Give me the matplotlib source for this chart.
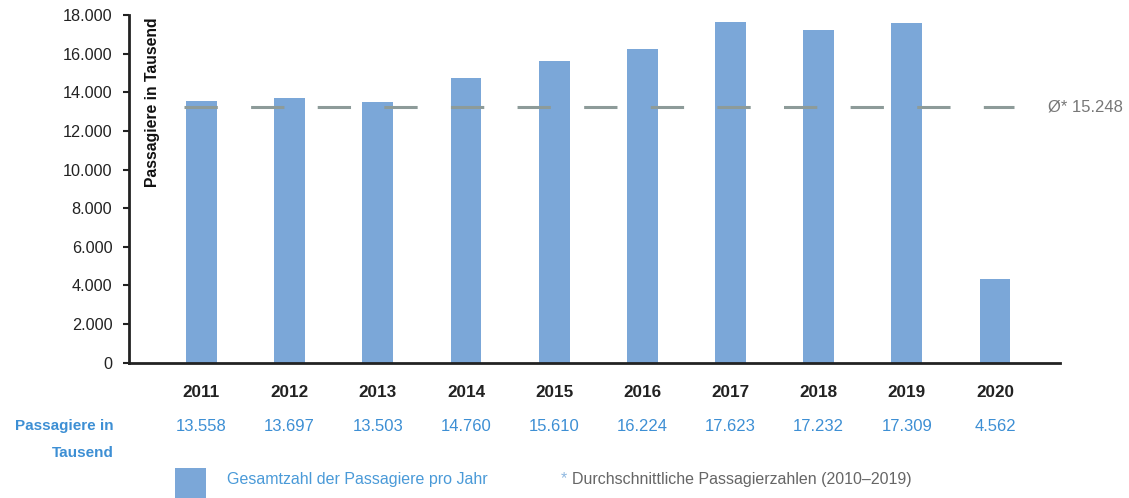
import numpy as np
import matplotlib
matplotlib.use('Agg')
import matplotlib.pyplot as plt
from matplotlib.patches import Rectangle
from matplotlib.transforms import blended_transform_factory

plt.rcParams['font.family'] = ['Liberation Sans', 'DejaVu Sans']

'''DATA (read off the picture)'''
jahre = ['2011', '2012', '2013', '2014', '2015', '2016', '2017', '2018', '2019', '2020']
# bar heights as drawn in the chart (thousand passengers)
balken = [13558, 13697, 13503, 14760, 15610, 16224, 17623, 17232, 17600, 4330]
# values printed in the table row below the axis
tabelle = ['13.558', '13.697', '13.503', '14.760', '15.610', '16.224', '17.623', '17.232', '17.309', '4.562']
# average line as drawn, and its label
mittel_linie = 13220
mittel_text = 'Ø* 15.248'
y_ticks = [0, 2000, 4000, 6000, 8000, 10000, 12000, 14000, 16000, 18000]
y_labels = ['0', '2.000', '4.000', '6.000', '8.000', '10.000', '12.000', '14.000', '16.000', '18.000']

BAR = '#7ba7d8'
DARK = '#222222'
BLUE = '#3d8fd4'
LINE = '#8d9b99'


'''PLOT GENERATION'''
W, H = 1129, 498
fig = plt.figure(figsize=(W / 100, H / 100), dpi=100)
ax = fig.add_axes([129 / W, 1 - 362.7 / H, 931 / W, 347.7 / H])

x = np.arange(len(jahre))
ax.bar(x, balken, width=0.35, color=BAR, zorder=2)

avg, = ax.plot([-0.198, 9.22], [mittel_linie, mittel_linie], color=LINE, linewidth=2.2, zorder=3)
avg.set_dashes((10.9, 10.9))
avg.set_dash_capstyle('butt')


'''PLOT SETTINGS'''
ax.set_xlim(-0.822, 9.737)
ax.set_ylim(0, 18000)
ax.set_yticks(y_ticks)
ax.set_yticklabels(y_labels, fontsize=11.7, color=DARK)
ax.set_xticks([])
ax.tick_params(axis='y', length=4, width=1.5, color=DARK, pad=8)

for side in ['top', 'right']:
    ax.spines[side].set_visible(False)
for side in ['left', 'bottom']:
    ax.spines[side].set_linewidth(2)
    ax.spines[side].set_color(DARK)

ax.text(0.0252, 0.994, 'Passagiere in Tausend', transform=ax.transAxes, rotation=90,
        ha='center', va='top', fontsize=11.3, fontweight='bold', color='#111111')

fig.text(1048 / W, 1 - 107.5 / H, mittel_text, ha='left', va='center', fontsize=12, color='#777777')


'''TABLE BELOW THE AXIS'''
spalte = blended_transform_factory(ax.transData, fig.transFigure)
for i in range(len(jahre)):
    ax.text(x[i], 1 - 392.7 / H, jahre[i], transform=spalte,
            ha='center', va='center', fontsize=12.3, fontweight='bold', color=DARK)
    ax.text(x[i], 1 - 426 / H, tabelle[i], transform=spalte,
            ha='center', va='center', fontsize=12, color=BLUE)

fig.text(114 / W, 1 - 426 / H, 'Passagiere in', ha='right', va='center',
         fontsize=11, fontweight='bold', color=BLUE)
fig.text(114 / W, 1 - 452.7 / H, 'Tausend', ha='right', va='center',
         fontsize=11, fontweight='bold', color=BLUE)


'''LEGEND'''
fig.patches.append(Rectangle((175 / W, 0), 31 / W, 30 / H, transform=fig.transFigure,
                             facecolor=BAR, edgecolor='none'))
fig.text(227 / W, 1 - 479 / H, 'Gesamtzahl der Passagiere pro Jahr', ha='left', va='center',
         fontsize=11.5, color='#4a9ad8')
fig.text(561 / W, 1 - 479 / H, '*', ha='left', va='center', fontsize=11.5, color='#8fb8e0')
fig.text(572 / W, 1 - 479 / H, 'Durchschnittliche Passagierzahlen (2010\u20132019)', ha='left',
         va='center', fontsize=11.5, color='#666666')

fig.savefig('out.png', dpi=100)
plt.close()
